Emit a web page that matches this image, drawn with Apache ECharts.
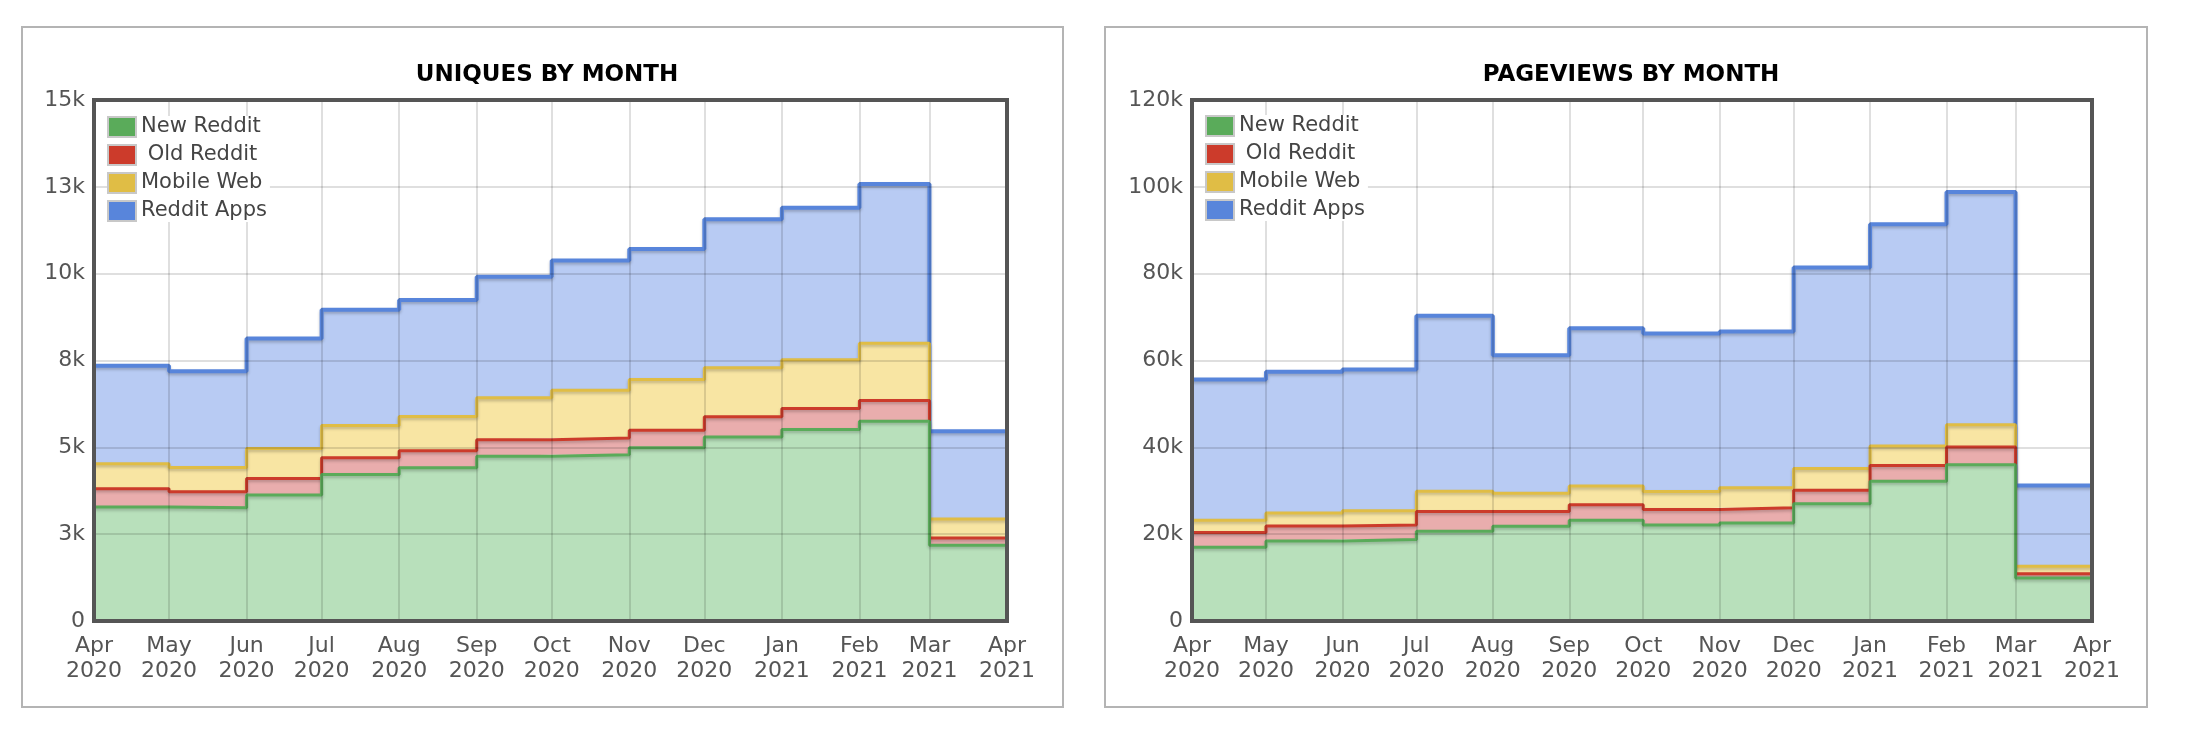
<!DOCTYPE html>
<html><head><meta charset="utf-8">
<script src="https://cdn.jsdelivr.net/npm/echarts@6/dist/echarts.min.js"></script>
<style>
html,body{margin:0;padding:0;background:#fff;}
#wrap{position:relative;width:2192px;height:736px;}
.box{position:absolute;border:2px solid #b4b4b4;box-sizing:border-box;}
#chart{position:absolute;left:0;top:0;width:2192px;height:736px;}
</style></head><body>
<div id="wrap">
<div class="box" style="left:21px;top:26px;width:1043px;height:682px"></div>
<div class="box" style="left:1104px;top:26px;width:1044px;height:682px"></div>
<div id="chart"></div>
</div>
<script>
// ---- data ----
const months = ['2020-04-01','2020-05-01','2020-06-01','2020-07-01','2020-08-01','2020-09-01','2020-10-01','2020-11-01','2020-12-01','2021-01-01','2021-02-01','2021-03-01'];
const periodEnd = '2021-04-01';
const xTickLabels = ['Apr\n2020','May\n2020','Jun\n2020','Jul\n2020','Aug\n2020','Sep\n2020','Oct\n2020','Nov\n2020','Dec\n2020','Jan\n2021','Feb\n2021','Mar\n2021','Apr\n2021'];
const seriesNames = ['New Reddit','Old Reddit','Mobile Web','Reddit Apps'];

const uniquesNewReddit  = [3280,3260,3630,4220,4410,4740,4790,4990,5300,5510,5750,2180];
const uniquesOldReddit  = [530,460,470,480,490,480,480,500,580,610,600,210];
const uniquesMobileWeb  = [720,700,870,930,990,1210,1370,1460,1410,1400,1650,550];
const uniquesRedditApps = [2820,2770,3160,3330,3350,3480,3740,3760,4280,4380,4580,2520];
const uniquesTickLabels = ['0','3k','5k','8k','10k','13k','15k'];

const pageviewsNewReddit  = [17000,18400,18800,20700,21800,23200,22100,22600,27000,32200,36000,9900];
const pageviewsOldReddit  = [3400,3500,3300,4500,3400,3600,3600,3500,3100,3600,4100,1000];
const pageviewsMobileWeb  = [2800,3000,3300,4700,4200,4300,4100,4600,5000,4500,5100,1700];
const pageviewsRedditApps = [32400,32500,32500,40400,31800,36300,36400,36000,46300,51100,53600,18600];
const pageviewsTickLabels = ['0','20k','40k','60k','80k','100k','120k'];

// ---- styles ----
const FONT = 'DejaVu Sans';
const styles = [
  {line:'#5aab5a', area:'#b8e0bb', width:3},
  {line:'#cc3b2b', area:'#e9adad', width:3},
  {line:'#e0bd45', area:'#f8e5a3', width:3},
  {line:'#5885db', area:'#b8cbf3', width:4}
];

function toData(vals){
  const d = months.map((m,i)=>[m, vals[i]]);
  d.push([periodEnd, vals[vals.length-1]]);
  return d;
}
function monthIndex(v){
  const d = new Date(v);
  return (d.getFullYear()-2020)*12 + d.getMonth() - 3;
}
function makeSeries(groups, g, stackId){
  return groups.map((vals,i)=>({
    name: seriesNames[i], type:'line', xAxisIndex:g, yAxisIndex:g, stack:stackId,
    step:'end', symbol:'none', showSymbol:false, data: toData(vals),
    color: styles[i].line, z: 6 - i,
    lineStyle:{color:styles[i].line, width:styles[i].width, shadowColor:'rgba(0,0,0,0.22)', shadowBlur:3, shadowOffsetY:2},
    areaStyle:{color:styles[i].area, opacity:1},
    emphasis:{disabled:true}, animation:false
  }));
}
function xAxis(g){
  return {type:'time', gridIndex:g, min:'2020-04-01', max:periodEnd, splitNumber:12, z:10,
    axisLine:{show:false}, axisTick:{show:false},
    splitLine:{show:true, lineStyle:{color:'rgba(0,0,0,0.17)', width:1.5}},
    axisLabel:{fontFamily:FONT, fontSize:22, color:'#555', lineHeight:25, margin:13, showMinLabel:true, showMaxLabel:true,
      formatter:(v)=>{const i=monthIndex(v); return xTickLabels[i]!==undefined?xTickLabels[i]:'';}}
  };
}
function yAxis(g, max, interval, labels){
  return {type:'value', gridIndex:g, min:0, max:max, interval:interval, z:10,
    axisLine:{show:false}, axisTick:{show:false},
    splitLine:{show:true, lineStyle:{color:'rgba(0,0,0,0.17)', width:1.5}},
    axisLabel:{fontFamily:FONT, fontSize:22, color:'#555', margin:9,
      formatter:(v)=>labels[Math.round(v/interval)]}
  };
}
function legend(left, top){
  return {orient:'vertical', left:left, top:top, icon:'rect', itemWidth:28, itemHeight:20, itemGap:6,
    padding:[0,3,0,0], backgroundColor:'#fff', z:20, selectedMode:false,
    itemStyle:{borderColor:'#c8c8c8', borderWidth:2},
    formatter:(n)=> n==='Old Reddit' ? ' Old Reddit' : n,
    textStyle:{fontFamily:FONT, fontSize:21, color:'#444', lineHeight:20},
    data:seriesNames};
}

const chart = echarts.init(document.getElementById('chart'), null, {renderer:'canvas'});
chart.setOption({
  animation:false,
  backgroundColor:'transparent',
  title:[
    {text:'UNIQUES BY MONTH', left:542, top:59, textAlign:'center',
     textStyle:{fontFamily:FONT, fontWeight:'bold', fontSize:23, color:'#000'}},
    {text:'PAGEVIEWS BY MONTH', left:1626, top:59, textAlign:'center',
     textStyle:{fontFamily:FONT, fontWeight:'bold', fontSize:23, color:'#000'}}
  ],
  legend:[legend(107,116), legend(1205,115)],
  grid:[
    {left:94, top:100, width:913, height:521, show:true, borderColor:'#555', borderWidth:4, backgroundColor:'transparent', z:12, outerBoundsMode:'none', containLabel:false},
    {left:1192, top:100, width:900, height:521, show:true, borderColor:'#555', borderWidth:4, backgroundColor:'transparent', z:12, outerBoundsMode:'none', containLabel:false}
  ],
  xAxis:[xAxis(0), xAxis(1)],
  yAxis:[yAxis(0,15000,2500,uniquesTickLabels), yAxis(1,120000,20000,pageviewsTickLabels)],
  series:[].concat(
    makeSeries([uniquesNewReddit,uniquesOldReddit,uniquesMobileWeb,uniquesRedditApps],0,'u'),
    makeSeries([pageviewsNewReddit,pageviewsOldReddit,pageviewsMobileWeb,pageviewsRedditApps],1,'p')
  )
});
</script>
</body></html>
